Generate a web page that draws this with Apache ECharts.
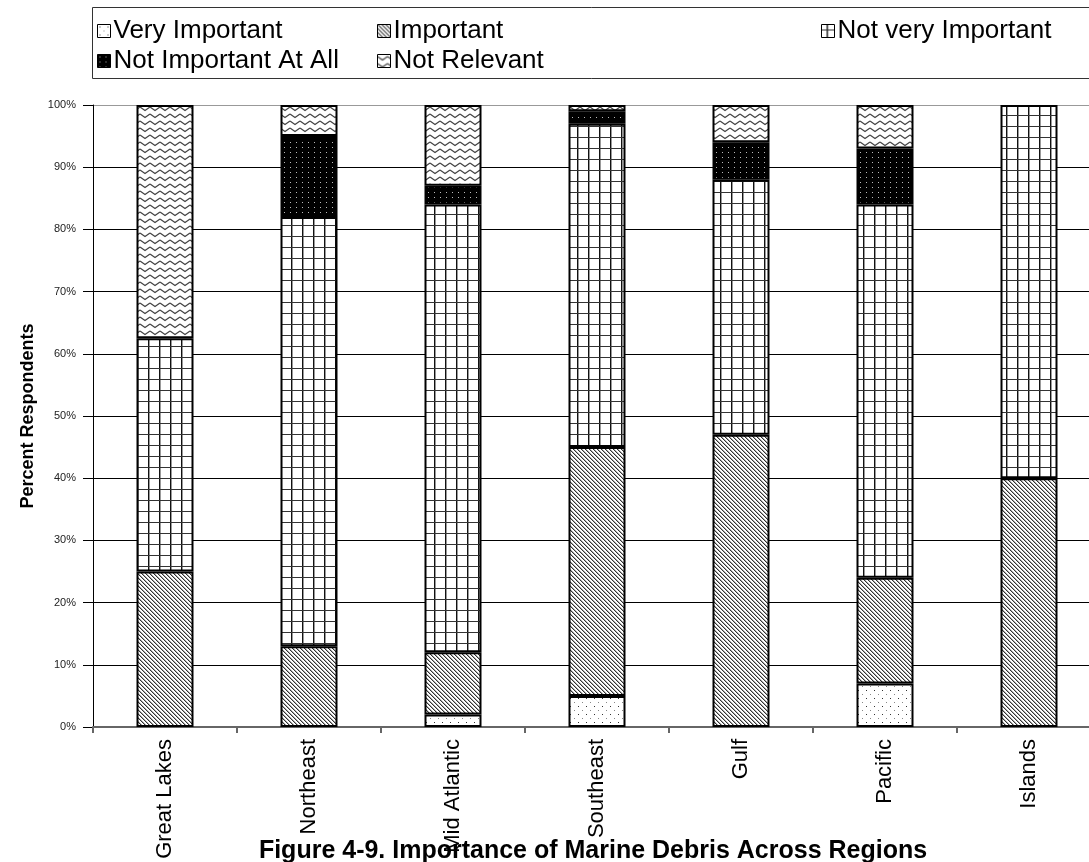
<!DOCTYPE html>
<html>
<head>
<meta charset="utf-8">
<script src="https://cdn.jsdelivr.net/npm/echarts@6/dist/echarts.min.js"></script>
<style>
  html, body { margin: 0; padding: 0; background: #fff; }
  #chart { width: 1089px; height: 862px; }
</style>
</head>
<body>
<div id="chart"></div>
<script>
// Regions surveyed
const regions = ['Great Lakes', 'Northeast', 'Mid Atlantic', 'Southeast', 'Gulf', 'Pacific', 'Islands'];

// Share of respondents (%) per rating, one value per region
const veryImportant      = [0,    0,  2,  5,  0,  7,  0];
const important          = [25,   13, 10, 40, 47, 17, 40];
const notVeryImportant   = [37.5, 69, 72, 52, 41, 60, 60];
const notImportantAtAll  = [0,    13, 3,  2,  6,  9,  0];
const notRelevant        = [37.5, 5,  13, 1,  6,  7,  0];

const yTicks = [0, 10, 20, 30, 40, 50, 60, 70, 80, 90, 100];

const FONT = '"Liberation Sans", Arial, sans-serif';

// ---- Fill textures (monochrome hatch patterns) ----
function makeCanvas(w, h, draw) {
  const c = document.createElement('canvas');
  c.width = w; c.height = h;
  const ctx = c.getContext('2d');
  ctx.fillStyle = '#fff';
  ctx.fillRect(0, 0, w, h);
  draw(ctx);
  return { image: c, repeat: 'repeat' };
}

// sparse dots
const patDots = makeCanvas(8, 8, ctx => {
  ctx.fillStyle = '#333';
  ctx.fillRect(2, 2, 1, 1);
  ctx.fillStyle = '#888';
  ctx.fillRect(6, 6, 1, 1);
});

// dense diagonal lines, top-left to bottom-right
const patDiag = makeCanvas(4, 4, ctx => {
  for (let i = 0; i < 4; i++) {
    ctx.fillStyle = '#333';
    ctx.fillRect(i, i, 1, 1);
    ctx.fillStyle = '#aaa';
    ctx.fillRect((i + 1) % 4, i, 1, 1);
  }
});

// square grid
const patGrid = makeCanvas(11, 11, ctx => {
  ctx.fillStyle = '#111';
  ctx.fillRect(5, 0, 1, 11);
  ctx.fillStyle = '#999';
  ctx.fillRect(6, 0, 1, 11);
  ctx.fillStyle = '#333';
  ctx.fillRect(0, 5, 11, 1);
});

// black with light dots
const patDark = makeCanvas(6, 5, ctx => {
  ctx.fillStyle = '#000';
  ctx.fillRect(0, 0, 6, 5);
  ctx.fillStyle = '#bbb';
  ctx.fillRect(2, 2, 1, 1);
});

// horizontal zigzag waves
const patWave = makeCanvas(10, 7, ctx => {
  ctx.strokeStyle = '#444';
  ctx.lineWidth = 1.2;
  ctx.beginPath();
  ctx.moveTo(0, 2);
  ctx.lineTo(5, 5.5);
  ctx.lineTo(10, 2);
  ctx.stroke();
});

const seriesDefs = [
  { name: 'Very Important',       data: veryImportant,     fill: patDots },
  { name: 'Important',            data: important,         fill: patDiag },
  { name: 'Not very Important',   data: notVeryImportant,  fill: patGrid },
  { name: 'Not Important At All', data: notImportantAtAll, fill: patDark },
  { name: 'Not Relevant',         data: notRelevant,       fill: patWave }
];

// empty segments are left out so no outline is drawn for them
const series = seriesDefs.map(d => ({
  name: d.name,
  type: 'bar',
  stack: 'total',
  barWidth: 57,
  data: d.data.map(v => (v === 0 ? null : v)),
  itemStyle: { color: d.fill, borderColor: '#000', borderWidth: 2 },
  emphasis: { disabled: true }
}));

// legend laid out as a two-row grid of entries
const legendSlots = [
  { name: 'Very Important',       left: 97,  top: 17 },
  { name: 'Important',            left: 377, top: 17 },
  { name: 'Not very Important',   left: 821, top: 17 },
  { name: 'Not Important At All', left: 97,  top: 47 },
  { name: 'Not Relevant',         left: 377, top: 47 }
];

const legends = legendSlots.map(s => ({
  data: [s.name],
  left: s.left,
  top: s.top,
  padding: 0,
  itemWidth: 13,
  itemHeight: 13,
  itemGap: 4,
  selectedMode: false,
  icon: 'rect',
  itemStyle: { borderColor: '#000', borderWidth: 1 },
  textStyle: { fontFamily: FONT, fontSize: 26, color: '#000', padding: [0, 0, 0, -2], lineHeight: 28 }
}));

// gridlines are black, the top edge of the plot is grey
const gridColors = yTicks.map(v => (v === 100 ? '#999' : '#000'));

const chart = echarts.init(document.getElementById('chart'), null, { renderer: 'canvas' });

chart.setOption({
  animation: false,
  backgroundColor: '#fff',
  title: {
    text: 'Figure 4-9. Importance of Marine Debris Across Regions',
    left: 588,
    top: 834,
    textAlign: 'center',
    textStyle: { fontFamily: FONT, fontSize: 25, fontWeight: 'bold', color: '#000' }
  },
  legend: legends,
  graphic: [{
    type: 'rect',
    shape: { x: 92.5, y: 7.5, width: 1010, height: 71 },
    style: { fill: 'none', stroke: '#333', lineWidth: 1 },
    silent: true
  }],
  // the plot runs slightly past the right edge of the canvas
  grid: { left: 93, top: 105, width: 1008, height: 622, containLabel: false, outerBoundsMode: 'none' },
  xAxis: {
    type: 'category',
    data: regions,
    axisLine: { show: true, lineStyle: { color: '#666', width: 2 } },
    axisTick: { show: true, alignWithLabel: false, length: 6, lineStyle: { color: '#666', width: 2 } },
    axisLabel: { rotate: 90, fontFamily: FONT, fontSize: 22, color: '#000', margin: 12 },
    splitLine: { show: false }
  },
  yAxis: {
    type: 'value',
    min: 0,
    max: 100,
    interval: 10,
    name: 'Percent Respondents',
    nameLocation: 'middle',
    nameGap: 56,
    nameTextStyle: { fontFamily: FONT, fontSize: 18, fontWeight: 'bold', color: '#000' },
    axisLine: { show: true, lineStyle: { color: '#000', width: 1 } },
    axisTick: { show: true, length: 10, lineStyle: { color: '#000' } },
    axisLabel: {
      fontFamily: FONT, fontSize: 11, color: '#222', margin: 17,
      formatter: v => yTicks.includes(v) ? v + '%' : ''
    },
    splitLine: { show: true, lineStyle: { color: gridColors, width: 1 } }
  },
  series: series
});
</script>
</body>
</html>
